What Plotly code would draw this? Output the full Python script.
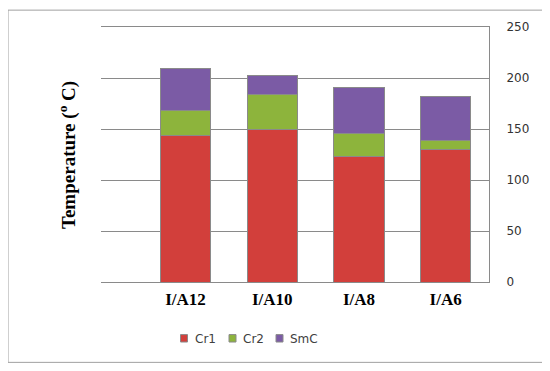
import plotly.graph_objects as go

categories = ["I/A12", "I/A10", "I/A8", "I/A6"]
cr1 = [144, 149.5, 123, 130]
cr2 = [24, 34, 23, 9]
smc = [41, 19, 45, 43]
y_ticks = [0, 50, 100, 150, 200, 250]
series_names = ["Cr1", "Cr2", "SmC"]

colors = {"Cr1": "#D23F3B", "Cr2": "#8DB43C", "SmC": "#7B5BA5"}

OFF = 8  # browser body margin
W, H = 550 - OFF, 371 - OFF
L, R, T, B = 101 - OFF, 489 - OFF, 25 - OFF, 282 - OFF
pw, ph = R - L, B - T

def px(x):
    return (x - OFF - L) / pw

def py(y):
    return (B - (y - OFF)) / ph

fig = go.Figure()
for name, vals in zip(series_names, [cr1, cr2, smc]):
    fig.add_trace(go.Bar(
        x=categories, y=vals, name=name, showlegend=False,
        marker=dict(color=colors[name], line=dict(color="#8a8a8a", width=1)),
        width=0.58,
    ))

shapes = [dict(type="rect", xref="paper", yref="paper",
               x0=px(8), x1=px(543), y0=py(363), y1=py(8),
               line=dict(color="#a0a0a0", width=1), layer="below")]
annotations = [dict(text="<b>Temperature (<sup>o</sup> C)</b>", xref="paper", yref="paper",
                    x=px(68), y=py(154), textangle=-90, showarrow=False,
                    xanchor="center", yanchor="middle",
                    font=dict(family="Liberation Serif", size=19, color="black"))]

# legend (manual, to match compact spacing)
leg_sq_x = [180.5, 229, 276]
for name, sx in zip(series_names, leg_sq_x):
    shapes.append(dict(type="rect", xref="paper", yref="paper",
                       x0=px(sx), x1=px(sx + 7), y0=py(342.5), y1=py(335),
                       fillcolor=colors[name], line=dict(color="#8a8a8a", width=1)))
    annotations.append(dict(text=name, xref="paper", yref="paper",
                            x=px(sx + 12), y=py(339), xanchor="left", yanchor="middle",
                            showarrow=False,
                            font=dict(family="DejaVu Sans", size=12, color="#404040")))

fig.update_layout(
    width=W, height=H,
    margin=dict(l=L, r=W - R, t=T, b=H - B, pad=0),
    barmode="stack",
    paper_bgcolor="white", plot_bgcolor="white",
    showlegend=False,
    xaxis=dict(range=[-0.975, 3.5], showgrid=False, showline=True, linecolor="#8a8a8a",
               mirror=True, linewidth=1, ticks="", ticklabelstandoff=2,
               tickvals=categories,
               ticktext=["<b>" + c + "</b>" for c in categories],
               tickfont=dict(family="Liberation Serif", size=17, color="black")),
    yaxis=dict(side="right", range=[0, 250], tickvals=y_ticks, showgrid=True,
               gridcolor="#8a8a8a", gridwidth=1, showline=True, linecolor="#8a8a8a",
               linewidth=1, ticks="", ticklabelstandoff=14, zeroline=False,
               tickfont=dict(family="DejaVu Sans", size=12, color="#333333")),
    shapes=shapes,
    annotations=annotations,
)

fig.write_html("out.html")
